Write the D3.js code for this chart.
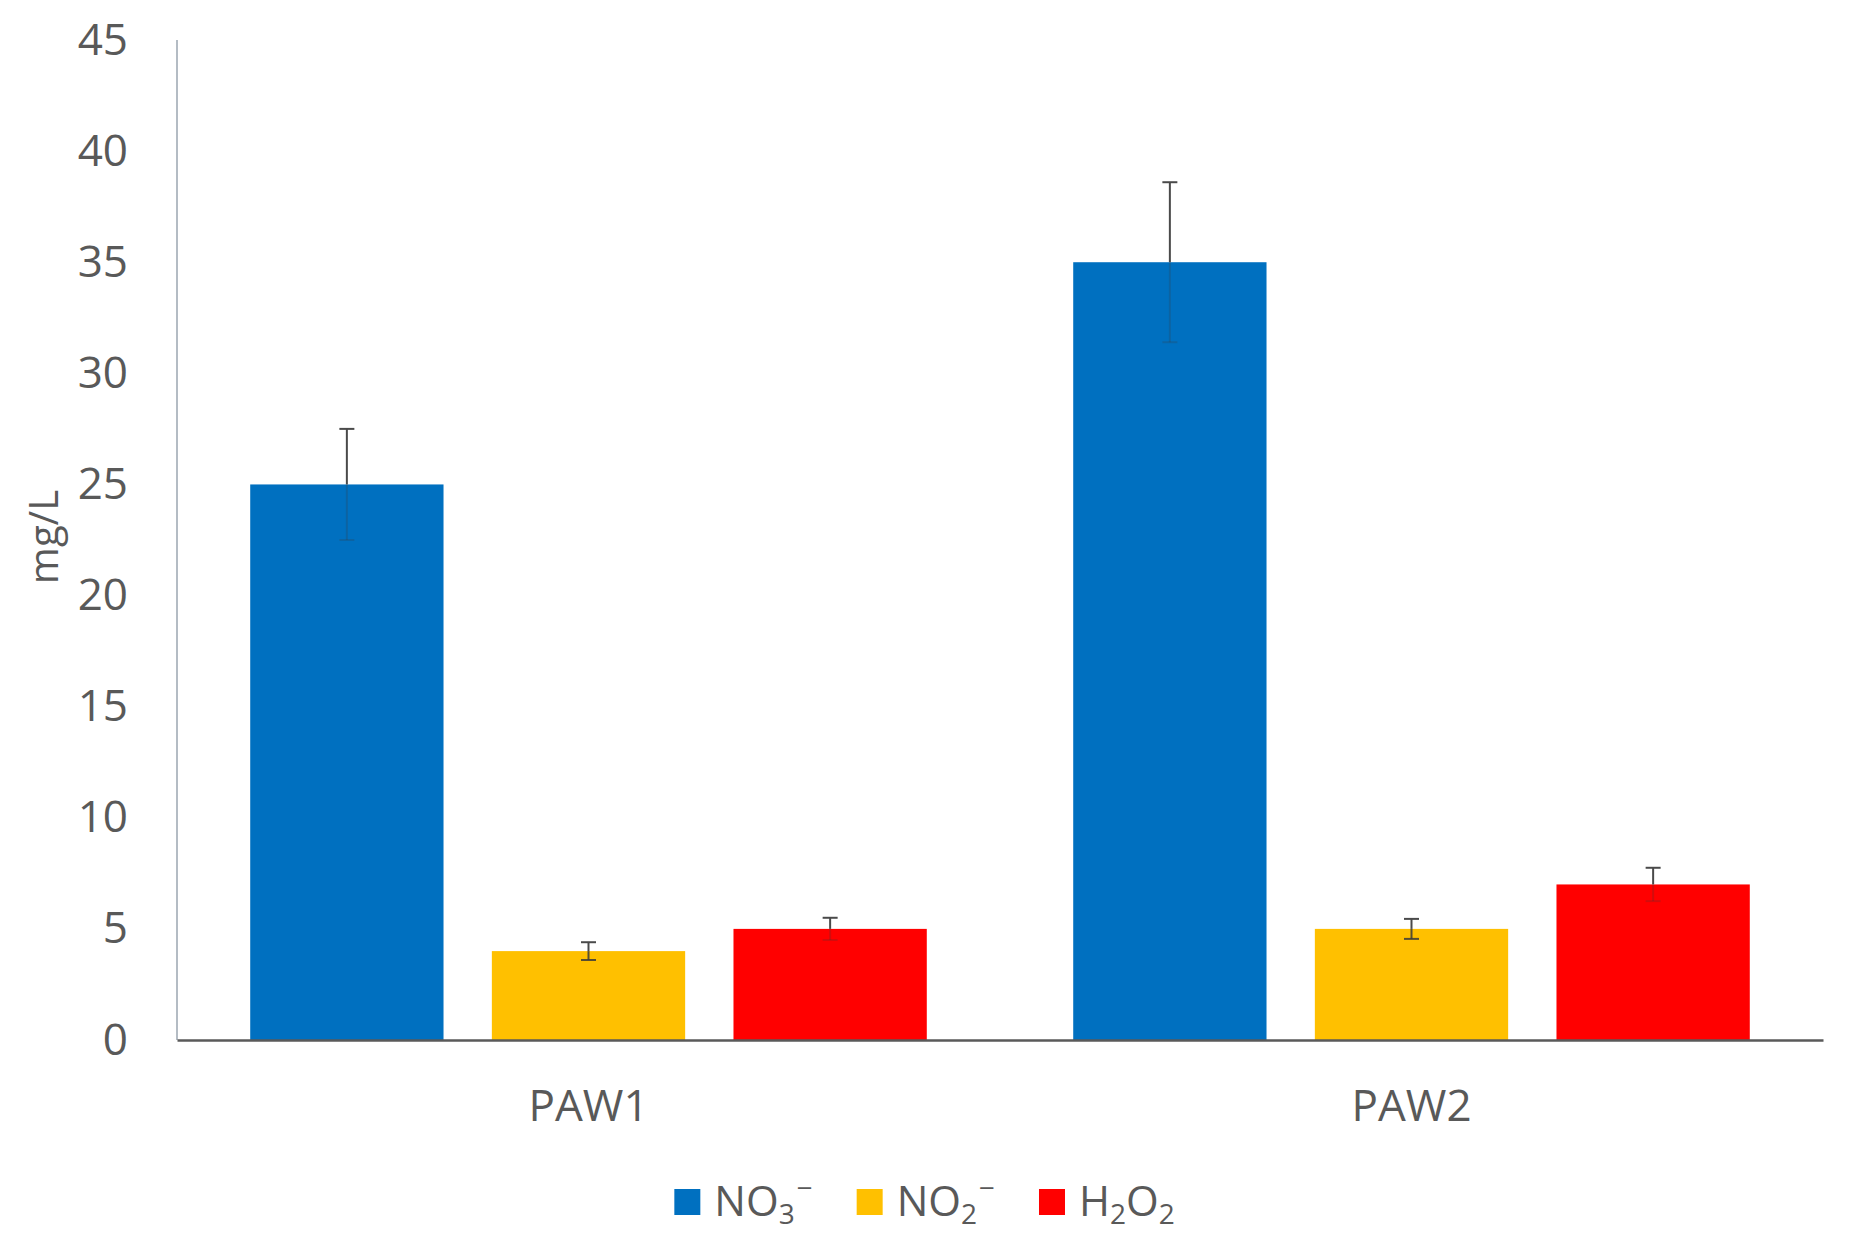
<!DOCTYPE html>
<html>
<head>
<meta charset="utf-8">
<script src="https://cdn.jsdelivr.net/npm/d3@7"></script>
<style>
  html, body { margin: 0; padding: 0; background: #fff; }
  svg { display: block; }
  text { font-family: "Open Sans", sans-serif; fill: #595959; }
</style>
</head>
<body>
<svg id="chart" width="1849" height="1240"></svg>
<script>
// ---- data ----
const categories = ["PAW1", "PAW2"];
const seriesNames = ["NO3", "NO2", "H2O2"];
const no3Values = [25, 35];
const no2Values = [4, 5];
const h2o2Values = [5, 7];
const no3Errors = [2.5, 3.6];
const no2Errors = [0.4, 0.45];
const h2o2Errors = [0.5, 0.75];
const yTicks = [0, 5, 10, 15, 20, 25, 30, 35, 40, 45];
const yLabel = "mg/L";
const seriesColors = ["#0070C0", "#FFC000", "#FF0000"];
// legend labels: [text, kind] parts
const legendParts = [
  [["NO", ""], ["3", "sub"], ["\u2212", "sup"]],
  [["NO", ""], ["2", "sub"], ["\u2212", "sup"]],
  [["H", ""], ["2", "sub"], ["O", ""], ["2", "sub"]]
];

const valuesBySeries = [no3Values, no2Values, h2o2Values];
const errorsBySeries = [no3Errors, no2Errors, h2o2Errors];
const rows = [];
categories.forEach((c, ci) => {
  seriesNames.forEach((s, si) => {
    rows.push({cat: c, series: s, si, value: valuesBySeries[si][ci], err: errorsBySeries[si][ci]});
  });
});

// ---- layout ----
const svg = d3.select("#chart");
const mLeft = 177, mRight = 1823, mTop = 40, mBottom = 1040;

const x0 = d3.scaleBand().domain(categories).range([mLeft, mRight]).paddingInner(0).paddingOuter(0);
const x1 = d3.scaleBand().domain(seriesNames).range([0, x0.bandwidth()]).paddingInner(0.2).paddingOuter(0.303);
const y = d3.scaleLinear().domain([0, 45]).range([mBottom, mTop]);
const color = d3.scaleOrdinal().domain(seriesNames).range(seriesColors);

// y axis line
svg.append("line")
  .attr("x1", mLeft).attr("x2", mLeft).attr("y1", mTop).attr("y2", mBottom)
  .attr("stroke", "#b4bcc4").attr("stroke-width", 2);

// y tick labels via axis
const yAxis = d3.axisLeft(y).tickValues(yTicks).tickSize(0).tickPadding(49);
const gy = svg.append("g").attr("transform", `translate(${mLeft},0)`).call(yAxis);
gy.select(".domain").remove();
gy.selectAll("text")
  .attr("font-family", "'Open Sans', sans-serif")
  .attr("font-size", 44)
  .attr("fill", "#595959");

// bars
svg.append("g").selectAll("rect").data(rows).join("rect")
  .attr("x", d => x0(d.cat) + x1(d.series))
  .attr("width", x1.bandwidth())
  .attr("y", d => y(d.value))
  .attr("height", d => y(0) - y(d.value))
  .attr("fill", d => color(d.series));

// error bars
const eg = svg.append("g");
rows.forEach(d => {
  const cx = x0(d.cat) + x1(d.series) + x1.bandwidth() / 2;
  const yTop = y(d.value + d.err), yMid = y(d.value), yBot = y(d.value - d.err);
  const lowOpacity = d.si === 1 ? 0.85 : 0.22;
  eg.append("line").attr("x1", cx).attr("x2", cx).attr("y1", yTop).attr("y2", yMid)
    .attr("stroke", "#4a4a4a").attr("stroke-width", 2);
  eg.append("line").attr("x1", cx - 7.5).attr("x2", cx + 7.5).attr("y1", yTop).attr("y2", yTop)
    .attr("stroke", "#4a4a4a").attr("stroke-width", 2);
  eg.append("line").attr("x1", cx).attr("x2", cx).attr("y1", yMid).attr("y2", yBot)
    .attr("stroke", "#3a3a3a").attr("stroke-width", 2).attr("opacity", lowOpacity);
  eg.append("line").attr("x1", cx - 7.5).attr("x2", cx + 7.5).attr("y1", yBot).attr("y2", yBot)
    .attr("stroke", "#3a3a3a").attr("stroke-width", 2).attr("opacity", lowOpacity);
});

// baseline / x axis
const xAxis = d3.axisBottom(x0).tickSize(0).tickPadding(50);
const gx = svg.append("g").attr("transform", `translate(0,${mBottom})`).call(xAxis);
gx.select(".domain").attr("stroke", "#5a5a5a").attr("stroke-width", 2.5);
gx.selectAll("text")
  .attr("font-family", "'Open Sans', sans-serif")
  .attr("font-size", 44)
  .attr("fill", "#595959");

// y title
svg.append("text")
  .attr("transform", "translate(58,537) rotate(-90)")
  .attr("text-anchor", "middle")
  .attr("font-size", 40)
  .text(yLabel);

// legend
const legend = svg.append("g");
const items = [];
seriesNames.forEach((s, i) => {
  const g = legend.append("g");
  g.append("rect").attr("x", 0).attr("y", -13).attr("width", 26).attr("height", 26).attr("fill", seriesColors[i]);
  const t = g.append("text").attr("x", 40).attr("y", 14).attr("font-size", 42);
  let cur = 0;
  legendParts[i].forEach(([str, kind]) => {
    const ts = t.append("tspan").text(str);
    const target = kind === "sub" ? 8 : kind === "sup" ? -18 : 0;
    if (kind) ts.attr("font-size", 28);
    ts.attr("dy", target - cur);
    if (kind === "sup") ts.attr("dx", 2);
    cur = target;
  });
  const w = 40 + t.node().getComputedTextLength();
  items.push({g, w});
});
const gap = 46;
const total = d3.sum(items, d => d.w) + gap * (items.length - 1);
let lx = 924.5 - total / 2;
items.forEach(it => {
  it.g.attr("transform", `translate(${lx},1202)`);
  lx += it.w + gap;
});
</script>
</body>
</html>
